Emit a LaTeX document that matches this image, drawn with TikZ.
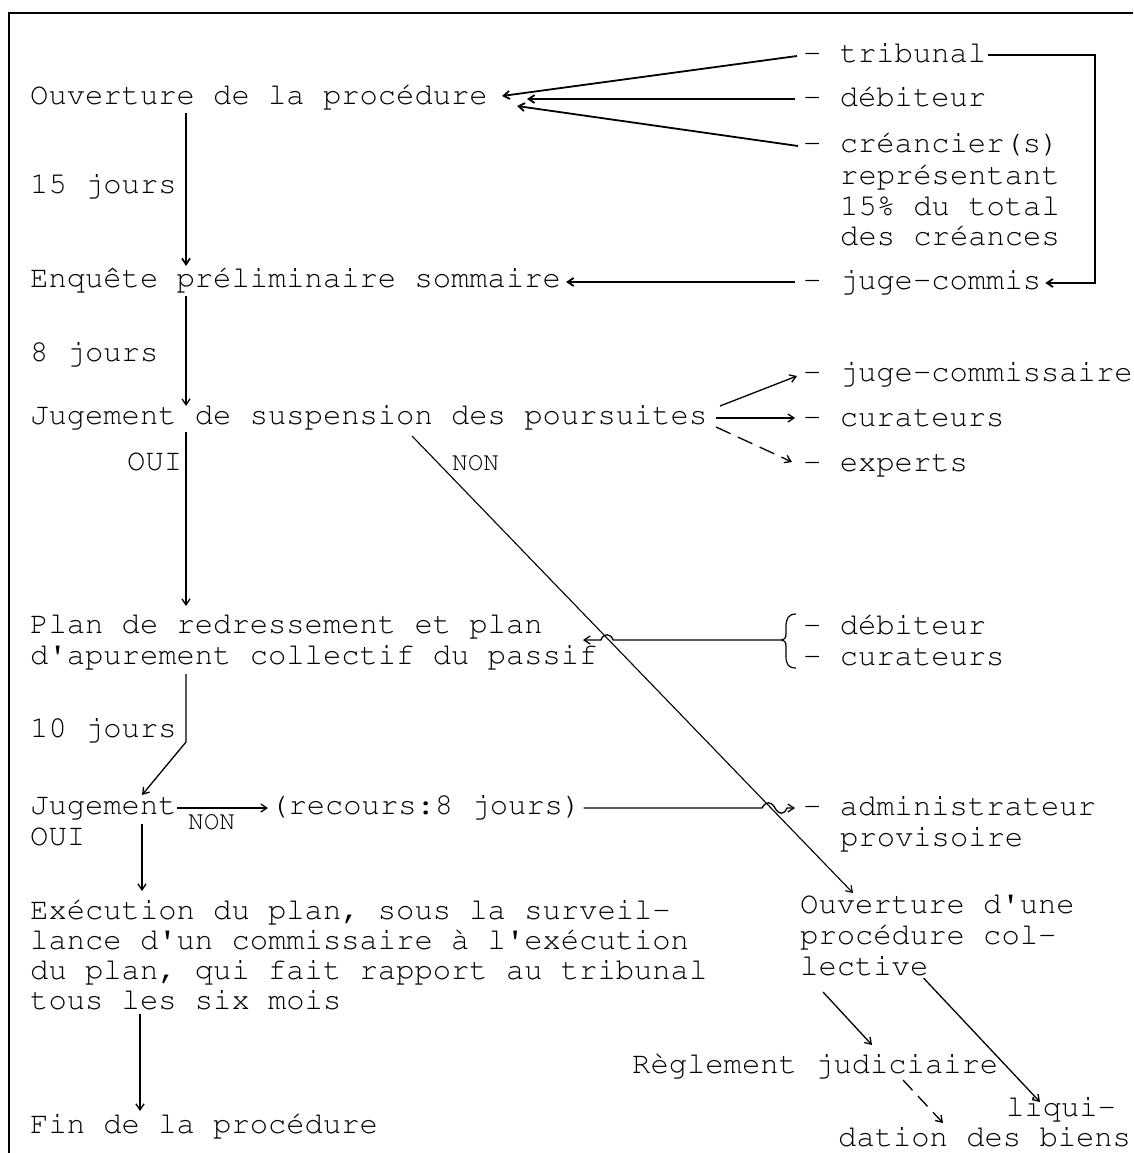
\documentclass[tikz,border=0pt]{standalone}
\usepackage[T1]{fontenc}
\usetikzlibrary{arrows.meta}
\newcommand{\twf}{\fontfamily{pcr}\fontseries{m}\fontshape{n}\fontsize{30.5}{31}\selectfont}
\newcommand{\twsm}{\fontfamily{pcr}\fontseries{m}\fontshape{n}\fontsize{26}{28}\selectfont}
\newcommand{\ap}{\textquotesingle}
\begin{document}
\begin{tikzpicture}[x=1pt,y=-1pt,
  txt/.style={anchor=base west,inner sep=0pt,font=\twf},
  sm/.style={anchor=base west,inner sep=0pt,font=\twsm},
  con/.style={line width=1.3pt,-{Straight Barb[length=6pt,width=8pt]}},
  thick2/.style={line width=1.8pt},
  thin/.style={line width=1.1pt},
  frame/.style={line width=2.5pt}]
\useasboundingbox (0,0) rectangle (1133,1153);
\draw[frame] (1133,13) -- (9,13) -- (9,1153);

% left column
\node[txt] (ouv) at (30,105) {Ouverture de la procédure};
\node[txt] (j15) at (30,193) {15 jours};
\node[txt] (enq) at (30,287) {Enquête préliminaire sommaire};
\node[txt] (j8) at (30,361) {8 jours};
\node[txt] (susp) at (30,424) {Jugement de suspension des poursuites};
\node[txt] (oui1) at (127,470) {OUI};
\node[sm] (non1) at (452,470) {NON};
\node[txt] (plan1) at (30,633) {Plan de redressement et plan};
\node[txt] (plan2) at (30,664) {d\ap apurement collectif du passif};
\node[txt] (j10) at (30,737) {10 jours};
\node[txt] (jug) at (30,814) {Jugement};
\node[txt] (oui2) at (30,845) {OUI};
\node[sm] (non2) at (188,829) {NON};
\node[txt] (rec) at (270,814) {(recours:8 jours)};
\node[txt] (exe1) at (30,919) {Exécution du plan, sous la surveil-};
\node[txt] (exe2) at (30,949) {lance d\ap un commissaire à l\ap exécution};
\node[txt] (exe3) at (30,979) {du plan, qui fait rapport au tribunal};
\node[txt] (exe4) at (30,1009) {tous les six mois};
\node[txt] (fin) at (30,1133) {Fin de la procédure};

% right column
\node[txt] (trib) at (803,63) {- tribunal};
\node[txt] (deb1) at (803,107) {- débiteur};
\node[txt] (cre1) at (803,153) {- créancier(s)};
\node[txt] (cre2) at (840,184) {représentant};
\node[txt] (cre3) at (840,215) {15\% du total};
\node[txt] (cre4) at (840,245) {des créances};
\node[txt] (jc) at (803,289) {- juge-commis};
\node[txt] (jcom) at (803,381) {- juge-commissaire};
\node[txt] (cur) at (803,426) {- curateurs};
\node[txt] (exp) at (803,471) {- experts};
\node[txt] (deb2) at (803,634) {- débiteur};
\node[txt] (cur2) at (803,665) {- curateurs};
\node[txt] (adm) at (803,815) {- administrateur};
\node[txt] (prov) at (840,846) {provisoire};
\node[txt] (ouva) at (800,913) {Ouverture d\ap une};
\node[txt] (ouvb) at (800,944) {procédure col-};
\node[txt] (ouvc) at (800,975) {lective};
\node[txt] (regl) at (632,1073) {Règlement judiciaire};
\node[txt] (liq) at (1006,1116) {liqui-};
\node[txt] (dat) at (838,1146) {dation des biens};

% connectors top
\draw[con,thick2] ([xshift=-6pt,yshift=7pt]trib.base west) -- ([xshift=472pt,yshift=9pt]ouv.base west);
\draw[con,thick2] ([xshift=-8pt,yshift=8pt]deb1.base west) -- ([xshift=497pt,yshift=6pt]ouv.base west);
\draw[con,thick2] ([xshift=-5pt,yshift=7pt]cre1.base west) -- ([xshift=487pt,yshift=-1pt]ouv.base west);
\draw[con,thick2] ([xshift=2pt,yshift=8pt]trib.base east) -| ([xshift=54pt,yshift=6pt]jc.base east) -- ([xshift=4pt,yshift=6pt]jc.base east);
\draw[con,thick2] ([xshift=156pt,yshift=-8pt]ouv.base west) -- ([xshift=156pt,yshift=21pt]enq.base west);
\draw[con,thick2] ([xshift=-8pt,yshift=7pt]jc.base west) -- ([xshift=536pt,yshift=5pt]enq.base west);
\draw[con] ([xshift=156pt,yshift=-9pt]enq.base west) -- ([xshift=156pt,yshift=18pt]susp.base west);

% from suspension
\draw[con] ([xshift=690pt,yshift=18pt]susp.base west) -- ([xshift=-6pt,yshift=5pt]jcom.base west);
\draw[con] ([xshift=686pt,yshift=6pt]susp.base west) -- ([xshift=-8pt,yshift=8pt]cur.base west);
\draw[con,dash pattern=on 16pt off 8pt] ([xshift=686pt,yshift=-3pt]susp.base west) -- ([xshift=-11pt,yshift=9pt]exp.base west);
\draw[con] ([xshift=156pt,yshift=-8pt]susp.base west) -- ([xshift=156pt,yshift=27pt]plan1.base west);
\draw[con,thin] ([xshift=382pt,yshift=-12pt]susp.base west) -- ([xshift=53pt,yshift=20pt]ouva.base west);

% brace and plan arrow
\draw[line width=1.2pt] (796,614) .. controls (788,614) and (786,619) .. (786,627) -- (786,634)
  .. controls (786,638) and (784,640) .. (782,640)
  .. controls (784,640) and (786,642) .. (786,646) -- (786,656)
  .. controls (786,664) and (788,668) .. (796,668);
\coordinate (brt) at (782,640);
\draw[con] (brt) -- (613,640) .. controls (611,633) and (603,633) .. (601,640) -- ([xshift=553pt,yshift=-7pt]plan1.base west);

% plan -> jugement
\draw[con] ([xshift=156pt,yshift=-10pt]plan2.base west) -- (186,742) -- ([xshift=112pt,yshift=19pt]jug.base west);
\draw[con] ([xshift=147pt,yshift=6pt]jug.base west) -- ([xshift=-2pt,yshift=6pt]rec.base west);
\draw[con] ([xshift=2pt,yshift=6pt]rec.base east) -- (762,808) .. controls (766,801) and (771,801) .. (775,808)
  .. controls (779,815) and (784,815) .. (787,808) -- ([xshift=-8pt,yshift=7pt]adm.base west);
\draw[con] ([xshift=112pt,yshift=-10pt]jug.base west) -- ([xshift=112pt,yshift=28pt]exe1.base west);
\draw[con] ([xshift=110pt,yshift=-5pt]exe4.base west) -- ([xshift=110pt,yshift=22pt]fin.base west);

% bottom right
\draw[con] ([xshift=23pt,yshift=-17pt]ouvc.base west) -- ([xshift=240pt,yshift=28pt]regl.base west);
\draw[con] ([xshift=-5pt,yshift=-3pt]ouvc.base east) -- ([xshift=34pt,yshift=14pt]liq.base west);
\draw[con,dash pattern=on 14pt off 8pt] ([xshift=271pt,yshift=-7pt]regl.base west) -- ([xshift=105pt,yshift=23pt]dat.base west);
\end{tikzpicture}
\end{document}
